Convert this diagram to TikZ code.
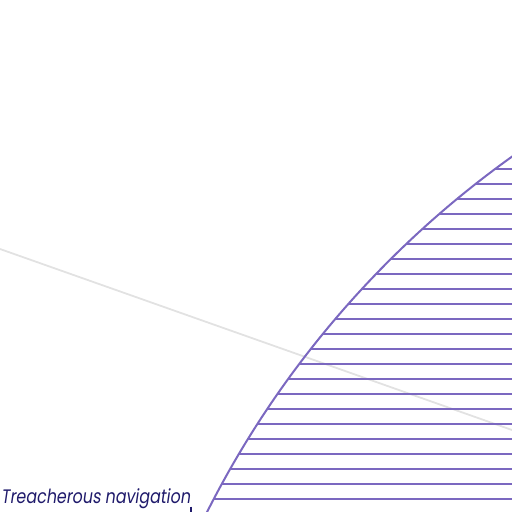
\documentclass[tikz,border=0pt]{standalone}
\usepackage{fontspec}
\newfontfamily\labfont[FakeSlant=0.18]{Poppins}
\definecolor{hatch}{HTML}{7B68C0}
\definecolor{faint}{HTML}{E2E2E2}
\definecolor{ink}{HTML}{1F1A6B}
\tikzset{
  hatchline/.style={draw=hatch, line width=2pt},
  faintline/.style={draw=faint, line width=1.8pt},
  inkline/.style={draw=ink, line width=1.6pt},
}
\begin{document}
\begin{tikzpicture}[x=1pt,y=-1pt]
\useasboundingbox (0,0) rectangle (512,512);
\coordinate (g1) at (0,249);
\coordinate (g2) at (512,430);
\draw[faintline] (g1) -- (g2);
\coordinate (c) at (1078.2,950.6);
\begin{scope}
  \clip (c) circle (975.1pt);
  \foreach \k in {0,...,22} {
    \draw[hatchline] (0,169+15*\k) -- (512,169+15*\k);
  }
\end{scope}
\draw[hatchline] (c) circle (975.1pt);
\node[anchor=base west, inner sep=0pt, text=ink, font=\labfont\fontsize{19.5}{20}\selectfont] (lab) at (1,503.3) {\resizebox{189pt}{\height}{Treacherous navigation}};
\coordinate (t1) at (190.7,506.7);
\coordinate (t2) at (190.7,513);
\draw[inkline] (t1) -- (t2);
\end{tikzpicture}
\end{document}
